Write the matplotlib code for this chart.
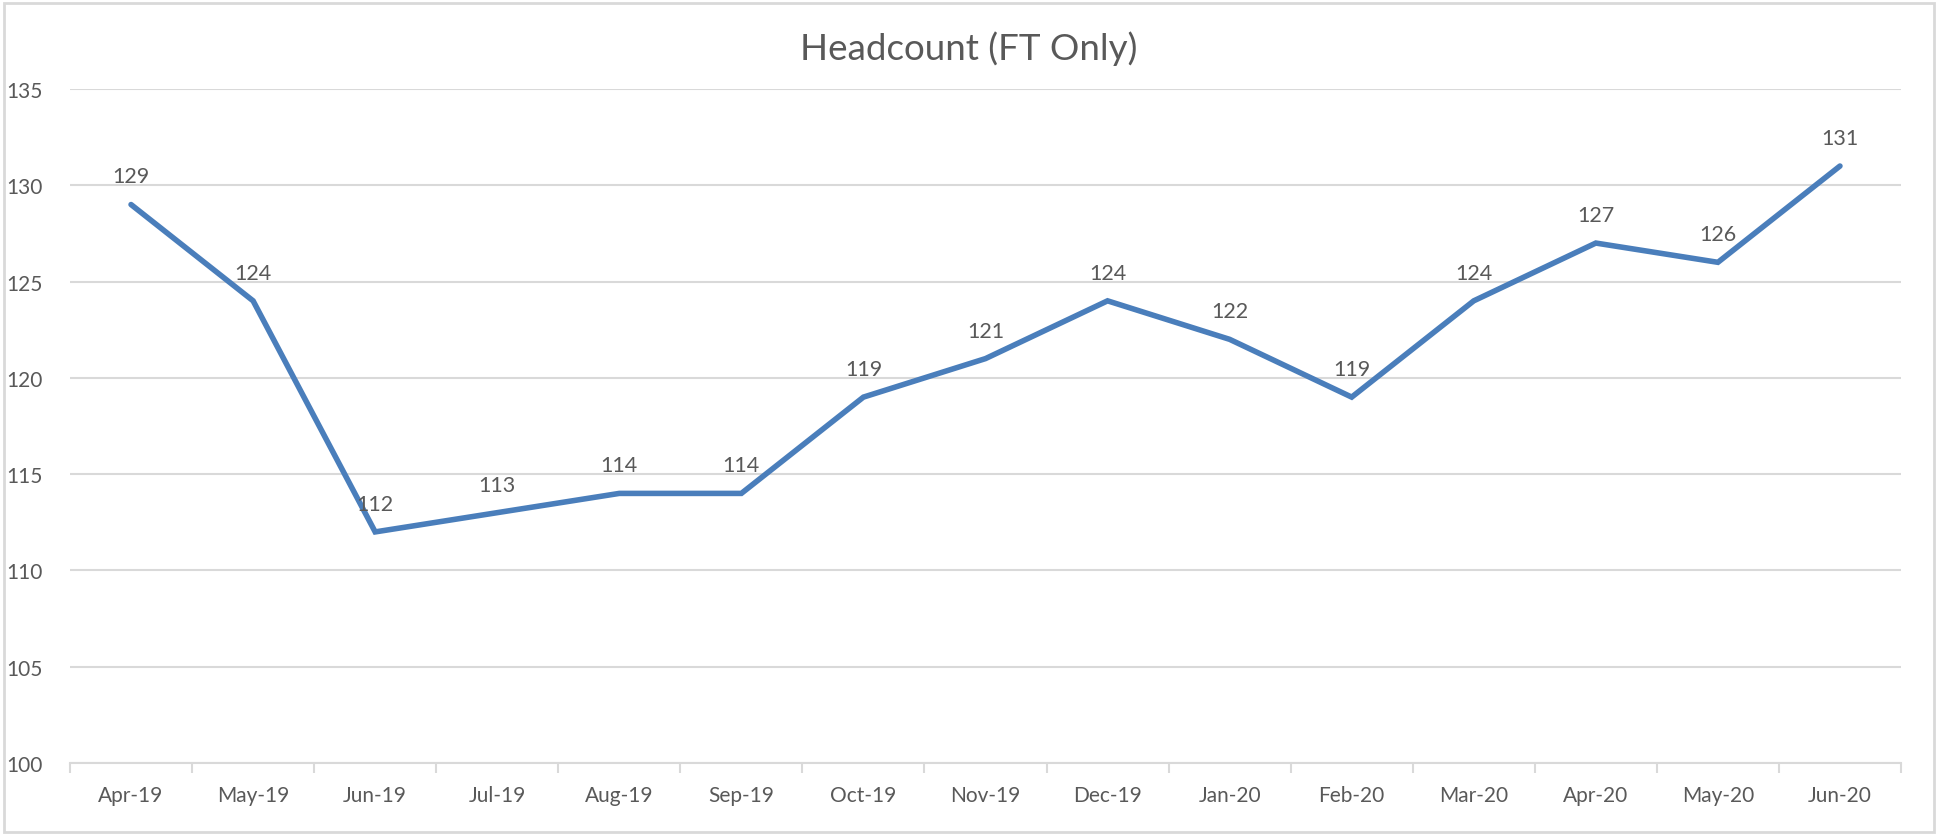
import matplotlib
matplotlib.use("Agg")
import matplotlib.pyplot as plt
from matplotlib.patches import Rectangle

categories = ["Apr-19", "May-19", "Jun-19", "Jul-19", "Aug-19", "Sep-19", "Oct-19",
              "Nov-19", "Dec-19", "Jan-20", "Feb-20", "Mar-20", "Apr-20", "May-20", "Jun-20"]
headcount = [129, 124, 112, 113, 114, 114, 119, 121, 124, 122, 119, 124, 127, 126, 131]
y_ticks = [100, 105, 110, 115, 120, 125, 130, 135]
title = "Headcount (FT Only)"

plt.rcParams['font.family'] = ['Lato', 'DejaVu Sans']
text_color = "#595959"
grid_color = "#d9d9d9"
line_color = "#4a7ebb"

W, H = 1938, 837
fig = plt.figure(figsize=(W / 100, H / 100), dpi=100)
fig.patches.append(Rectangle((4 / W, 4 / H), 1 - 8 / W, 1 - 8 / H, transform=fig.transFigure,
                             fill=False, edgecolor=grid_color, linewidth=2))

ax = fig.add_axes([70 / W, (H - 764) / H, (1901 - 70) / W, (764 - 90) / H])
x = list(range(len(categories)))
ax.plot(x, headcount, color=line_color, linewidth=4.0, solid_joinstyle='miter', solid_capstyle='round', zorder=3)
for xi, v in zip(x, headcount):
    ax.annotate(str(v), (xi, v), xytext=(0, 13), textcoords='offset points',
                ha='center', va='bottom', fontsize=15.5, color=text_color, zorder=4)

ax.set_xlim(-0.5, len(categories) - 0.5)
ax.set_ylim(y_ticks[0], y_ticks[-1])
ax.set_yticks(y_ticks)
ax.set_yticklabels([str(t) for t in y_ticks])
ax.set_xticks(x)
ax.set_xticklabels(categories)
ax.set_xticks([i - 0.5 for i in range(len(categories) + 1)], minor=True)
ax.tick_params(axis='x', which='major', length=0, pad=16, labelsize=15, labelcolor=text_color)
ax.tick_params(axis='x', which='minor', length=7, width=1.5, color=grid_color)
ax.tick_params(axis='y', length=0, pad=20, labelsize=15, labelcolor=text_color)
ax.grid(axis='y', color=grid_color, linewidth=1.5)
ax.set_axisbelow(True)
for s in ['top', 'right', 'left']:
    ax.spines[s].set_visible(False)
ax.spines['bottom'].set_color(grid_color)
ax.spines['bottom'].set_linewidth(1.5)

fig.text(0.5, 1 - 49 / H, title, ha='center', va='center', fontsize=26.5, color=text_color)

fig.savefig("out.png", dpi=100)
